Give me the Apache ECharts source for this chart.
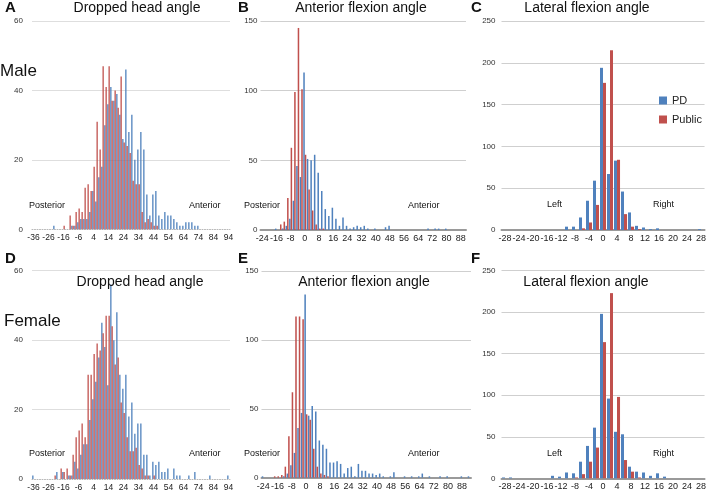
<!DOCTYPE html>
<html>
<head>
<meta charset="utf-8">
<script src="https://cdn.jsdelivr.net/npm/echarts@6/dist/echarts.min.js"></script>
<style>
html,body{margin:0;padding:0;background:#fff;}
#chart{width:709px;height:494px;}
</style>
</head>
<body>
<div id="chart"></div>
<script>
// ---- categories (angle bins, degrees) ----
const catsHead = [-36,-34,-32,-30,-28,-26,-24,-22,-20,-18,-16,-14,-12,-10,-8,-6,-4,-2,0,2,4,6,8,10,12,14,16,18,20,22,24,26,28,30,32,34,36,38,40,42,44,46,48,50,52,54,56,58,60,62,64,66,68,70,72,74,76,78,80,82,84,86,88,90,92,94];
const catsFlexM = [-24,-22,-20,-18,-16,-14,-12,-10,-8,-6,-4,-2,0,2,4,6,8,10,12,14,16,18,20,22,24,26,28,30,32,34,36,38,40,42,44,46,48,50,52,54,56,58,60,62,64,66,68,70,72,74,76,78,80,82,84,86,88,90];
const catsFlexF = [-24,-22,-20,-18,-16,-14,-12,-10,-8,-6,-4,-2,0,2,4,6,8,10,12,14,16,18,20,22,24,26,28,30,32,34,36,38,40,42,44,46,48,50,52,54,56,58,60,62,64,66,68,70,72,74,76,78,80,82,84,86,88,90,92];
const catsLat = [-28,-26,-24,-22,-20,-18,-16,-14,-12,-10,-8,-6,-4,-2,0,2,4,6,8,10,12,14,16,18,20,22,24,26,28];

// ---- Male ----
const headMalePD = [0,0,0,0,0,0,0,1,0,0, 0,0,0,1,1,2,3,3,3,5, 11,8,15,18,30,36,41,37,39,33, 26,46,28,33,20,23,28,23,10,4, 10,11,4,3,5,4,4,3,2,1, 1,2,2,2,1,1,0,0,0,0, 0,0,0,0,0,0];
const headMalePublic = [0,0,0,0,0,0,0,0,0,0, 1,0,4,1,5,6,5,12,13,11, 18,31,23,47,41,47,37,40,35,44, 25,24,22,14,13,13,5,2,3,2, 1,1,0,0,0,0,0,0,0,0, 0,0,0,0,0,0,0,0,0,0, 0,0,0,0,0,0];
const flexMalePD = [0,0,0,0,1,0,1,3,8,21, 46,38,113,51,50,54,41,28,15,10, 16,8,3,9,3,1,2,3,2,3, 1,0,1,0,0,2,3,0,0,0, 0,0,0,0,0,0,0,1,0,1, 1,0,1,0,0,0,0,0];
const flexMalePublic = [0,0,0,0,0,4,6,23,59,99, 145,101,54,29,14,4,1,1,0,0, 0,0,0,0,0,0,0,0,0,0, 0,0,0,0,0,0,0,0,0,0, 0,0,0,0,0,0,0,0,0,0, 0,0,0,0,0,0,0,0];
const latMalePD = [0,0,0,0,0,0,0,0,0,4,4,15,35,59,194,67,83,46,21,5,3,1,2,0,0,0,0,0,1];
const latMalePublic = [0,0,0,0,0,0,0,0,0,0,0,2,9,30,176,215,84,19,4,1,0,0,0,0,0,0,0,0,0];

// ---- Female ----
const headFemalePD = [1,0,0,0,0,0,0,0,2,0, 2,0,1,1,5,3,7,10,10,17, 23,28,35,45,38,27,56,40,48,30, 26,30,18,22,13,16,16,7,7,1, 5,4,5,2,2,3,0,3,1,1, 0,0,1,0,2,0,0,0,0,1, 0,0,0,0,0,1];
const headFemalePublic = [0,0,0,0,0,0,0,1,0,3, 2,3,1,7,12,14,16,12,30,30, 36,39,37,42,47,47,44,33,35,22, 19,12,8,8,9,4,3,1,1,0, 1,0,0,0,0,0,0,0,0,0, 0,0,0,0,0,0,0,0,0,0, 0,0,0,0,0,0];
const flexFemalePD = [1,0,0,0,0,0,1,3,9,18, 36,47,133,45,52,48,27,24,21,11, 11,12,10,3,7,8,1,10,5,5, 3,3,2,3,1,0,1,4,0,0, 1,0,1,0,1,3,0,1,0,0, 1,0,1,0,0,0,1,0,1];
const flexFemalePublic = [0,0,0,1,1,2,8,30,62,117, 117,115,46,42,21,8,3,2,1,0, 0,0,0,0,0,0,0,0,0,0, 0,0,0,0,0,0,0,0,0,0, 0,0,0,0,0,0,0,0,0,0, 0,0,0,0,0,0,0,0,0];
const latFemalePD = [1,1,0,0,0,0,0,3,2,7,6,20,39,61,198,96,56,53,14,8,7,3,6,2,0,0,0,0,0];
const latFemalePublic = [0,0,0,0,0,0,0,0,0,0,1,5,20,37,164,223,98,22,8,1,0,0,0,0,0,0,0,0,0];

// ---- y-axis ranges ----
const yHead = {max: 60, interval: 20};
const yFlex = {max: 150, interval: 50};
const yLat = {max: 250, interval: 50};

const BLUE = '#4f81bd', RED = '#c0504d';
const FONT = 'Liberation Sans, Arial, sans-serif';

const grids = [
  {left: 32, top: 21, width: 198, height: 208.3},
  {left: 260.5, top: 21, width: 205.5, height: 209},
  {left: 501.5, top: 21, width: 205.5, height: 209},
  {left: 32, top: 270.7, width: 198, height: 208.3},
  {left: 261.5, top: 271, width: 209.5, height: 206.7},
  {left: 501.5, top: 270.7, width: 205.5, height: 207.6}
];
const panelCats = [catsHead, catsFlexM, catsLat, catsHead, catsFlexF, catsLat];
const panelInt = [4, 3, 1, 4, 3, 1];
const panelY = [yHead, yFlex, yLat, yHead, yFlex, yLat];
const yMargin = [9, 3, 6, 9, 3, 6];
const dotted = [true, false, false, true, false, false];
const pdData = [headMalePD, flexMalePD, latMalePD, headFemalePD, flexFemalePD, latFemalePD];
const pubData = [headMalePublic, flexMalePublic, latMalePublic, headFemalePublic, flexFemalePublic, latFemalePublic];

const xAxis = panelCats.map((c, i) => ({
  type: 'category', gridIndex: i, data: c,
  axisTick: {show: false},
  axisLine: dotted[i]
    ? {lineStyle: {color: '#b8b8b8', width: 1, type: [1, 1.5]}}
    : {lineStyle: {color: '#9a9a9a', width: 2}},
  axisLabel: {interval: panelInt[i], fontSize: dotted[i] ? 8.5 : 9, color: '#222', margin: 4, fontFamily: FONT, hideOverlap: false}
}));
const yAxis = panelY.map((y, i) => ({
  type: 'value', gridIndex: i, min: 0, max: y.max, interval: y.interval,
  axisLine: {show: false}, axisTick: {show: false},
  axisLabel: {fontSize: 8, color: '#333', margin: yMargin[i], fontFamily: FONT},
  splitLine: {show: true, showMinLine: !dotted[i] ? true : false, lineStyle: {color: dotted[i] ? '#dedede' : '#cfcfcf', width: 1}}
}));
const series = [];
for (let i = 0; i < 6; i++) {
  series.push({name: 'PD', type: 'bar', xAxisIndex: i, yAxisIndex: i, data: pdData[i],
    itemStyle: {color: BLUE}, barGap: '0%', barCategoryGap: '14%', z: 3});
  series.push({name: 'Public', type: 'bar', xAxisIndex: i, yAxisIndex: i, data: pubData[i],
    itemStyle: {color: RED}, barGap: '0%', barCategoryGap: '14%', z: 3});
}

function txt(x, y, s, size, opts) {
  return Object.assign({type: 'text', x: x, y: y, z: 10,
    style: Object.assign({text: s, fontSize: size, fill: '#111', fontFamily: FONT, textVerticalAlign: 'middle'}, opts || {})});
}
const graphics = [
  txt(5, 8, 'A', 15, {fontWeight: 'bold'}),
  txt(238, 8, 'B', 15, {fontWeight: 'bold'}),
  txt(471, 8, 'C', 15, {fontWeight: 'bold'}),
  txt(5, 259, 'D', 15, {fontWeight: 'bold'}),
  txt(238, 259, 'E', 15, {fontWeight: 'bold'}),
  txt(471, 259, 'F', 15, {fontWeight: 'bold'}),
  txt(137, 8, 'Dropped head angle', 14, {textAlign: 'center'}),
  txt(361, 8, 'Anterior flexion angle', 14, {textAlign: 'center'}),
  txt(587, 8, 'Lateral flexion angle', 14, {textAlign: 'center'}),
  txt(140, 282, 'Dropped head angle', 14, {textAlign: 'center'}),
  txt(364, 282, 'Anterior flexion angle', 14, {textAlign: 'center'}),
  txt(586, 282, 'Lateral flexion angle', 14, {textAlign: 'center'}),
  txt(0, 71, 'Male', 17),
  txt(4, 321, 'Female', 17),
  txt(29, 206, 'Posterior', 9),
  txt(189, 206, 'Anterior', 9),
  txt(244, 206, 'Posterior', 9),
  txt(408, 206, 'Anterior', 9),
  txt(547, 205, 'Left', 9),
  txt(653, 205, 'Right', 9),
  txt(29, 454, 'Posterior', 9),
  txt(189, 454, 'Anterior', 9),
  txt(244, 454, 'Posterior', 9),
  txt(408, 454, 'Anterior', 9),
  txt(547, 454, 'Left', 9),
  txt(653, 454, 'Right', 9)
];

const chart = echarts.init(document.getElementById('chart'), null, {renderer: 'canvas'});
chart.setOption({
  animation: false,
  backgroundColor: '#fff',
  grid: grids,
  xAxis: xAxis,
  yAxis: yAxis,
  series: series,
  legend: {
    data: ['PD', 'Public'], orient: 'vertical', left: 654, top: 90,
    itemWidth: 8, itemHeight: 8, itemGap: 8, icon: 'rect',
    textStyle: {fontSize: 11, color: '#222', fontFamily: FONT}
  },
  graphic: graphics
});
</script>
</body>
</html>
